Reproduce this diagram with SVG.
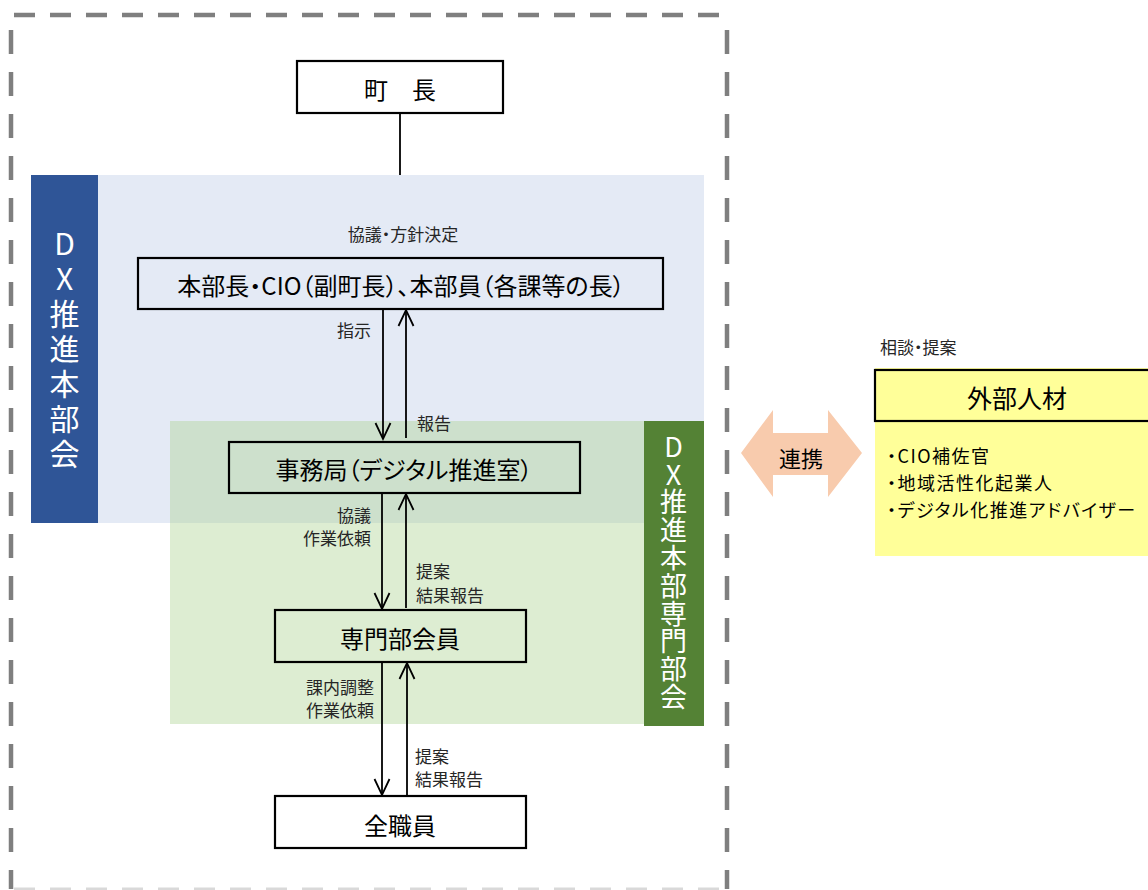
<svg xmlns="http://www.w3.org/2000/svg" width="1148" height="890" viewBox="0 0 1148 890">
<style>
text { font-family: "Noto Sans CJK JP", "Noto Sans", sans-serif; font-feature-settings: "palt"; }
.box { fill: none; stroke: #000; stroke-width: 2.2; }
.t24 { font-size: 24px; fill: #000; text-anchor: middle; dominant-baseline: central; }
.lbl { font-size: 17px; fill: #262626; dominant-baseline: central; }
.end { text-anchor: end; }
.conn { stroke: #000; stroke-width: 1.8; fill: none; }
.arr { marker-end: url(#head); }
.dash { stroke: #7f7f7f; stroke-width: 4.5; fill: none; }
.vt { writing-mode: vertical-rl; text-orientation: upright; fill: #fff; }
.item { font-size: 18px; letter-spacing: 1.5px; fill: #000; dominant-baseline: central; }
</style>
<defs>
<marker id="head" markerUnits="userSpaceOnUse" markerWidth="16" markerHeight="16" refX="16" refY="8" orient="auto" overflow="visible">
<path d="M0,0.5 L16,8 L0,15.5" fill="none" stroke="#000" stroke-width="1.8"/>
</marker>
</defs>
<rect width="1148" height="890" fill="#fff"/>

<g id="frame">
<line class="dash" x1="14" y1="15" x2="728" y2="15" stroke-dasharray="21 15"/>
<line class="dash" x1="11" y1="30" x2="11" y2="889" stroke-dasharray="24 18"/>
<line class="dash" x1="727" y1="30" x2="727" y2="889" stroke-dasharray="24 18"/>
<line x1="14" y1="889" x2="728" y2="889" stroke="#d9d9d9" stroke-width="3" stroke-dasharray="21 15"/>
</g>

<g id="dx-honbu">
<rect x="98" y="175" width="606" height="348" fill="#e4eaf5"/>
<rect x="31" y="175" width="67" height="348" fill="#2f5597"/>
<text class="vt" x="64.5" y="229" style="font-size:30px; letter-spacing:5px">DX推進本部会</text>
</g>

<g id="dx-senmon">
<rect x="170" y="421" width="474" height="303" fill="#a9d18e" fill-opacity="0.4"/>
<rect x="644" y="421" width="60" height="305" fill="#548235"/>
<text class="vt" x="673.5" y="433" style="font-size:27px; letter-spacing:0.8px">DX推進本部専門部会</text>
</g>

<g id="connectors">
<line class="conn" x1="400" y1="113" x2="400" y2="175"/>
<line class="conn arr" x1="383" y1="310" x2="383" y2="439"/>
<line class="conn arr" x1="406" y1="438" x2="406" y2="310"/>
<line class="conn arr" x1="382" y1="493" x2="382" y2="609"/>
<line class="conn arr" x1="406" y1="608" x2="406" y2="494"/>
<line class="conn arr" x1="382" y1="662" x2="382" y2="795"/>
<line class="conn arr" x1="407" y1="796" x2="407" y2="663"/>
</g>

<g id="labels">
<text class="lbl" x="403" y="233.5" text-anchor="middle">協議・方針決定</text>
<text class="lbl end" x="371" y="329">指示</text>
<text class="lbl" x="417" y="422.5">報告</text>
<text class="lbl end" x="371" y="514">協議</text>
<text class="lbl end" x="371" y="537.5">作業依頼</text>
<text class="lbl" x="416" y="570">提案</text>
<text class="lbl" x="416" y="594">結果報告</text>
<text class="lbl end" x="374" y="686">課内調整</text>
<text class="lbl end" x="374" y="709">作業依頼</text>
<text class="lbl" x="415" y="755">提案</text>
<text class="lbl" x="415" y="778.5">結果報告</text>
</g>

<g id="chou">
<rect class="box" x="297" y="61" width="206" height="52"/>
<text class="t24" x="400" y="88">町　長</text>
</g>

<g id="honbucho">
<rect class="box" x="138" y="258" width="525" height="51"/>
<text class="t24" x="401" y="284">本部長・CIO（副町長）、本部員（各課等の長）</text>
</g>

<g id="jimukyoku">
<rect class="box" x="229" y="442" width="351" height="51"/>
<text class="t24" x="404" y="468">事務局（デジタル推進室）</text>
</g>

<g id="senmon-bukai-in">
<rect class="box" x="275" y="610" width="251" height="52"/>
<text class="t24" x="400" y="637">専門部会員</text>
</g>

<g id="zen-shokuin">
<rect class="box" x="275" y="796" width="251" height="52"/>
<text class="t24" x="400" y="824">全職員</text>
</g>

<g id="renkei">
<polygon points="741,453 773,410 773,433 828,433 828,410 862,453 828,497 828,475 773,475 773,497" fill="#f8cbad"/>
<text x="801" y="456.5" style="font-size:22px; fill:#000; text-anchor:middle; dominant-baseline:central">連携</text>
</g>

<g id="gaibu-jinzai">
<text class="lbl" x="880" y="346.5">相談・提案</text>
<rect x="875" y="368" width="280" height="188" fill="#ffff99"/>
<rect class="box" x="875" y="370" width="285" height="51"/>
<text class="t24" x="1017" y="397" style="font-size:25px">外部人材</text>
<text class="item" x="887" y="454.5">・CIO補佐官</text>
<text class="item" x="887" y="481.5">・地域活性化起業人</text>
<text class="item" x="887" y="508.5">・デジタル化推進アドバイザー</text>
</g>
</svg>
